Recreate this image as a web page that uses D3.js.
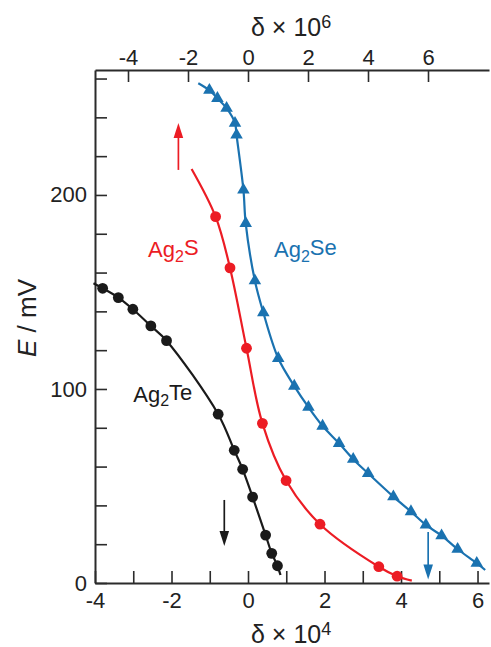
<!DOCTYPE html>
<html>
<head>
<meta charset="utf-8">
<script src="https://cdn.jsdelivr.net/npm/d3@7"></script>
<style>
  html, body { margin: 0; padding: 0; background: #fff; }
  svg { display: block; font-family: "Liberation Sans", Arial, Helvetica, sans-serif; }
</style>
</head>
<body>
<svg id="chart" width="491" height="647"></svg>
<script>
// Ag2Te, plotted against δ × 10^4 (bottom axis)
const teDelta = [-3.80, -3.39, -3.01, -2.54, -2.13, -0.78, -0.36, -0.14, 0.12, 0.46, 0.62, 0.77];
const teE     = [151.9, 147.1, 141.1, 132.5, 124.9, 87.0, 68.4, 58.6, 44.3, 24.7, 15.3, 8.9];
const teLineDelta = [-4.04, -3.80, -3.39, -3.01, -2.54, -2.13, -0.78, -0.36, -0.14, 0.12, 0.46, 0.62, 0.77, 0.85];
const teLineE     = [154.5, 151.9, 147.1, 141.1, 132.5, 124.9, 87.0, 68.4, 58.6, 44.3, 24.7, 15.3, 8.9, 4.1];

// Ag2S, plotted against δ × 10^6 (top axis)
const sDelta = [-1.08, -0.60, -0.05, 0.48, 1.27, 2.40, 4.36, 4.97];
const sE     = [188.8, 162.4, 121.0, 82.3, 52.8, 30.3, 8.4, 3.5];
const sLineDelta = [-1.88, -1.08, -0.60, -0.05, 0.48, 1.27, 2.40, 4.36, 4.97, 5.46];
const sLineE     = [213.4, 188.8, 162.4, 121.0, 82.3, 52.8, 30.3, 8.4, 3.5, 1.2];

// Ag2Se, plotted against δ × 10^4 (bottom axis)
const seDelta = [-1.01, -0.80, -0.56, -0.34, -0.30, -0.12, -0.06, 0.18, 0.40, 0.79, 1.21, 1.58, 1.95, 2.38, 2.75, 3.14, 3.80, 4.26, 4.65, 5.06, 5.48, 5.98];
const seE     = [254.0, 249.8, 244.7, 237.0, 230.9, 202.6, 185.4, 155.8, 139.4, 115.8, 101.5, 90.6, 80.9, 72.0, 63.8, 56.5, 44.5, 36.8, 29.9, 24.4, 17.4, 10.2];
const seLineDelta = [-1.30, ...seDelta, 6.20];
const seLineE     = [257.6, ...seE, 6.7];

// arrows: [delta, E from, E to]
const sArrow  = [-2.32, 212.9, 237.1];
const teArrow = [-0.62, 42.8, 19.1];
const seArrow = [4.71, 26.3, 1.8];

// tick values
const bottomTicks = [-4, -3, -2, -1, 0, 1, 2, 3, 4, 5, 6];
const topTicks = [-4, -2, 0, 2, 4, 6];
const eTicks = [0, 20, 40, 60, 80, 100, 120, 140, 160, 180, 200, 220, 240, 260];
const eLabelled = [0, 100, 200];

const RED = "#ec1c24", BLUE = "#1a72b0", BLACK = "#1a1a1a", AXIS = "#2b2b2b";

const svg = d3.select("#chart");
const plotLeft = 95, plotRight = 489, plotTop = 70, plotBottom = 583;

const xB = d3.scaleLinear().domain([-4, 6.3]).range([plotLeft, plotRight]);
const xT = d3.scaleLinear().domain([-5.1, 8.0333]).range([plotLeft, plotRight]);
const y  = d3.scaleLinear().domain([0, 264.4]).range([plotBottom, plotTop]);

function styleAxis(g) {
  g.select(".domain").attr("stroke", AXIS).attr("stroke-width", 2);
  g.selectAll(".tick line").attr("stroke", AXIS).attr("stroke-width", 1.6);
  g.selectAll(".tick text").attr("fill", "#222").style("font-size", "22px")
    .style("font-family", "'Liberation Sans', Arial, sans-serif");
}

// bottom axis, ticks pointing into the plot
svg.append("g").attr("transform", `translate(0,${plotBottom})`)
  .call(d3.axisBottom(xB).tickValues(bottomTicks).tickSize(-12).tickSizeOuter(0).tickPadding(9)
    .tickFormat(d => d % 2 === 0 ? String(d) : ""))
  .call(styleAxis);

// top axis
svg.append("g").attr("transform", `translate(0,${plotTop})`)
  .call(d3.axisTop(xT).tickValues(topTicks).tickSize(-12).tickSizeOuter(0).tickPadding(5)
    .tickFormat(d => String(d)))
  .call(styleAxis);

// left axis
svg.append("g").attr("transform", `translate(${plotLeft},0)`)
  .call(d3.axisLeft(y).tickValues(eTicks).tickSize(-12).tickSizeOuter(0).tickPadding(8)
    .tickFormat(d => eLabelled.includes(d) ? String(d) : ""))
  .call(styleAxis);

// axis titles
function deltaTitle(x, yy, exp) {
  const t = svg.append("text").attr("x", x).attr("y", yy)
    .attr("fill", "#222").style("font-size", "25px");
  t.append("tspan").text("δ × 10");
  t.append("tspan").attr("dy", "-0.45em").style("font-size", "18px").text(exp);
}
deltaTitle(251, 36, "6");
deltaTitle(251, 643, "4");

const yTitle = svg.append("text")
  .attr("transform", `translate(36,318) rotate(-90)`)
  .attr("text-anchor", "middle").attr("fill", "#222").style("font-size", "26px");
yTitle.append("tspan").style("font-style", "italic").text("E");
yTitle.append("tspan").text(" / mV");

// curves
const zip = (xs, ys) => xs.map((d, i) => [d, ys[i]]);
function series(xScale, lineX, lineY, px, py, color, shape) {
  const line = d3.line().x(d => xScale(d[0])).y(d => y(d[1]))
    .curve(d3.curveCatmullRom.alpha(0.5));
  svg.append("path").datum(zip(lineX, lineY)).attr("d", line)
    .attr("fill", "none").attr("stroke", color).attr("stroke-width", 2.2);
  const pts = zip(px, py);
  if (shape === "circle") {
    svg.append("g").selectAll("circle").data(pts).join("circle")
      .attr("cx", d => xScale(d[0])).attr("cy", d => y(d[1])).attr("r", 5.4)
      .attr("fill", color);
  } else {
    const sym = d3.symbol(d3.symbolTriangle, 68);
    svg.append("g").selectAll("path").data(pts).join("path")
      .attr("transform", d => `translate(${xScale(d[0])},${y(d[1])})`)
      .attr("d", sym).attr("fill", color);
  }
}
series(xB, teLineDelta, teLineE, teDelta, teE, BLACK, "circle");
series(xT, sLineDelta, sLineE, sDelta, sE, RED, "circle");
series(xB, seLineDelta, seLineE, seDelta, seE, BLUE, "triangle");

// arrows
function arrow(xScale, a, color) {
  const x = xScale(a[0]), y0 = y(a[1]), y1 = y(a[2]);
  const dir = y1 > y0 ? 1 : -1, head = 15, half = 4.8;
  svg.append("line").attr("x1", x).attr("x2", x).attr("y1", y0).attr("y2", y1 - dir * head * 0.6)
    .attr("stroke", color).attr("stroke-width", 1.7);
  svg.append("path")
    .attr("d", `M${x},${y1} L${x - half},${y1 - dir * head} L${x + half},${y1 - dir * head} Z`)
    .attr("fill", color);
}
arrow(xT, sArrow, RED);
arrow(xB, teArrow, BLACK);
arrow(xB, seArrow, BLUE);

// series labels
function label(x, yy, base, tail, color) {
  const t = svg.append("text").attr("x", x).attr("y", yy).attr("fill", color).style("font-size", "22px");
  t.append("tspan").text(base);
  t.append("tspan").attr("dy", "0.28em").style("font-size", "16px").text("2");
  t.append("tspan").attr("dy", "-0.28em").text(tail);
}
label(xT(-3.33), y(168), "Ag", "S", RED);
label(xB(0.68), y(168), "Ag", "Se", BLUE);
label(xB(-3.0), y(93.3), "Ag", "Te", BLACK);
</script>
</body>
</html>
